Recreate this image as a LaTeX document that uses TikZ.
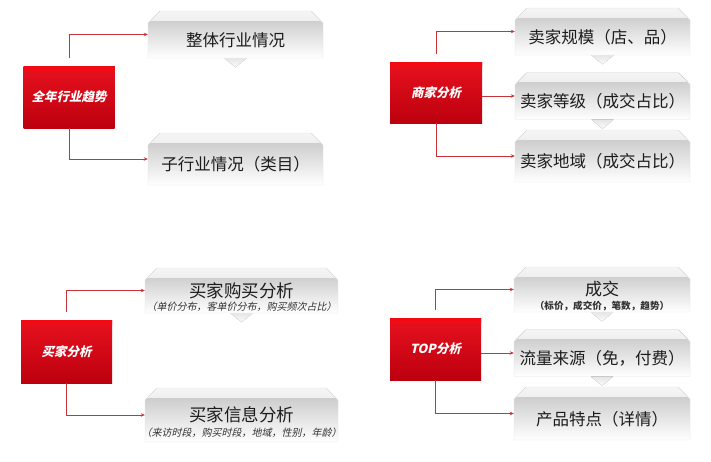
\documentclass[tikz,border=0pt]{standalone}
\usepackage{fontspec}
\setmainfont{Noto Sans CJK SC}
\newfontfamily\slantfont[FakeSlant=0.22]{Noto Sans CJK SC}
\usetikzlibrary{shapes.misc,arrows.meta}

\definecolor{linkred}{HTML}{C8323A}
\definecolor{redtop}{HTML}{E8111F}
\definecolor{redbot}{HTML}{BC000E}
\definecolor{inktext}{HTML}{1C1C1C}

\tikzset{
  box/.style={chamfered rectangle, chamfered rectangle corners={north west,north east},
    chamfered rectangle xsep=3pt, chamfered rectangle ysep=9pt, inner sep=0pt},
  graybox/.style={box, minimum width=175pt, top color=black!24, bottom color=white,
    draw=black!10, line width=0.4pt, text=inktext, font=\fontsize{16.5}{18}\selectfont,
    path picture={\fill[top color=black!4, bottom color=black!15]
      (path picture bounding box.north west) rectangle ([yshift=-9pt]path picture bounding box.north east);}},
  oneline/.style={text height=26pt, text depth=3pt},
  subtext/.style={anchor=south, inner sep=1pt, text=black!80},
  redbox/.style={rectangle, inner sep=0pt,
    minimum width=91pt, minimum height=62pt, top color=redtop, bottom color=redbot,
    text=white, font=\fontsize{12.5}{14}\slantfont\bfseries,
    path picture={\fill[top color=red!40!redtop, bottom color=redtop]
      (path picture bounding box.north west) rectangle ([yshift=-4pt]path picture bounding box.north east);}},
  link/.style={draw=linkred, line width=0.8pt, -{Stealth[length=4pt,width=3.5pt]}},
  pointer/.style={top color=black!10, bottom color=black!1, draw=black!7, line width=0.4pt}
}

\begin{document}
\begin{tikzpicture}[x=1pt,y=-1pt]
  \useasboundingbox[fill=white] (0,0) rectangle (711,461);

  % Top left: industry trend
  \node[redbox] (trend) at (69,97) {全年行业趋势};
  \node[graybox,oneline,minimum height=47pt] (overall) at (235.5,34.5) {整体行业情况};
  \node[graybox,oneline,minimum height=52pt] (subind) at (235.5,159) {子行业情况（类目）};
  \filldraw[pointer] ([xshift=-11pt]overall.south) -- ([yshift=-9pt]overall.south) -- ([xshift=11pt]overall.south) -- cycle;
  \draw[link,shorten <=8pt] (trend.north) |- (overall.west);
  \draw[link] (trend.south) |- (subind.west);

  % Top right: seller analysis
  \node[redbox,minimum width=92pt,minimum height=61pt] (shop) at (436,92.5) {商家分析};
  \node[graybox,oneline,minimum height=43pt] (scale) at (602.5,31.5) {卖家规模（店、品）};
  \node[graybox,oneline,minimum height=38pt] (grade) at (602.5,96) {卖家等级（成交占比）};
  \node[graybox,oneline,minimum height=52pt] (region) at (602.5,156) {卖家地域（成交占比）};
  \filldraw[pointer] ([xshift=-11pt]scale.south) -- ([yshift=-9pt]scale.south) -- ([xshift=11pt]scale.south) -- cycle;
  \filldraw[pointer] ([xshift=-11pt]grade.south) -- ([yshift=-9pt]grade.south) -- ([xshift=11pt]grade.south) -- cycle;
  \draw[link,shorten <=8pt] (shop.north) |- (scale.west);
  \draw[link] (shop.east |- grade.west) -- (grade.west);
  \draw[link] (shop.south) |- (region.west);

  % Bottom left: buyer analysis
  \node[redbox,minimum height=63pt] (buyer) at (66.5,351.5) {买家分析};
  \node[graybox,minimum width=193pt,minimum height=45pt,font=\fontsize{17.5}{19}\selectfont,
    label={[subtext,font=\fontsize{10}{11}\slantfont]south:（单价分布，客单价分布，购买频次占比）}]
    (buy) at (241.5,290.5) {买家购买分析};
  \node[graybox,minimum width=193pt,minimum height=54pt,font=\fontsize{17.5}{19}\selectfont,
    label={[subtext,yshift=3pt,font=\fontsize{10}{11}\slantfont]south:（来访时段，购买时段，地域，性别，年龄）}]
    (info) at (241.5,415) {买家信息分析};
  \filldraw[pointer] ([xshift=-11pt]buy.south) -- ([yshift=-9pt]buy.south) -- ([xshift=11pt]buy.south) -- cycle;
  \draw[link,shorten <=8pt] (buyer.north) |- (buy.west);
  \draw[link] (buyer.south) |- (info.west);

  % Bottom right: TOP analysis
  \node[redbox] (top) at (435.5,349) {TOP分析};
  \node[graybox,minimum width=176pt,minimum height=45pt,font=\fontsize{17}{19}\selectfont,
    label={[subtext,font=\fontsize{9.6}{10}\selectfont\bfseries]south:（标价，成交价，笔数，趋势）}]
    (deal) at (602,289.5) {成交};
  \node[graybox,oneline,minimum width=176pt,minimum height=40pt] (traffic) at (602,353) {流量来源（免，付费）};
  \node[graybox,oneline,minimum width=176pt,minimum height=53pt] (feature) at (602,413.5) {产品特点（详情）};
  \filldraw[pointer] ([xshift=-11pt]deal.south) -- ([yshift=-9pt]deal.south) -- ([xshift=11pt]deal.south) -- cycle;
  \filldraw[pointer] ([xshift=-11pt]traffic.south) -- ([yshift=-9pt]traffic.south) -- ([xshift=11pt]traffic.south) -- cycle;
  \draw[link,shorten <=8pt] (top.north) |- (deal.west);
  \draw[link] (top.east |- traffic.west) -- (traffic.west);
  \draw[link] (top.south) |- (feature.west);

\end{tikzpicture}
\end{document}
